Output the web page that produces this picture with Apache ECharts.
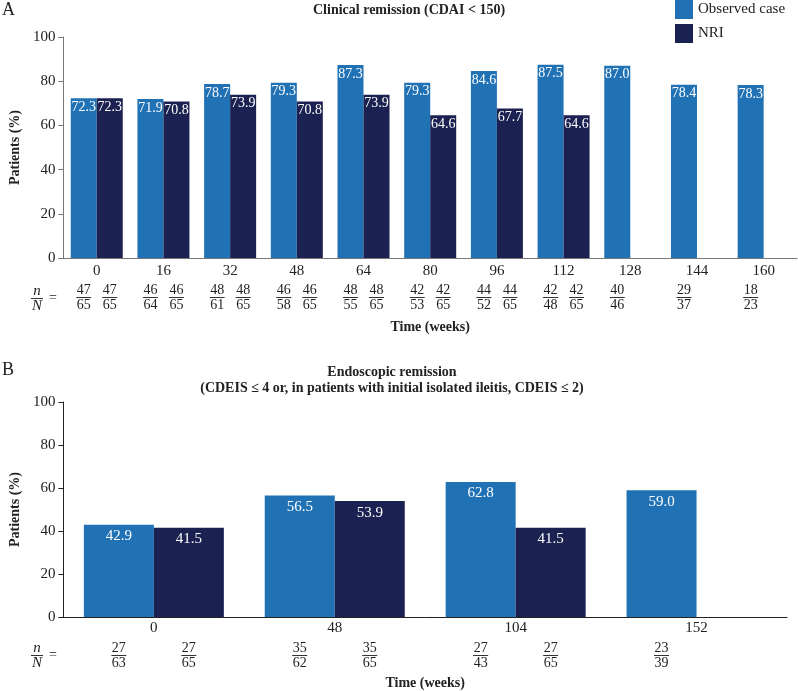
<!DOCTYPE html>
<html lang="en">

<head>
    <meta charset="UTF-8">
    <script src="https://cdn.jsdelivr.net/npm/echarts@6/dist/echarts.min.js"></script>
    <title>Remission</title>
</head>

<body style="margin:0;background:#fff;">
    <div id="main" style="width:798px;height:691px;"></div>

    <script>
        // panel A: clinical remission
        var weeksA = ['0', '16', '32', '48', '64', '80', '96', '112', '128', '144', '160'];
        var observedA = [72.3, 71.9, 78.7, 79.3, 87.3, 79.3, 84.6, 87.5, 87.0, 78.4, 78.3];
        var nriA = [72.3, 70.8, 73.9, 70.8, 73.9, 64.6, 67.7, 64.6, null, null, null];
        var obsCountA = [[47, 65], [46, 64], [48, 61], [46, 58], [48, 55], [42, 53], [44, 52], [42, 48], [40, 46], [29, 37], [18, 23]];
        var nriCountA = [[47, 65], [46, 65], [48, 65], [46, 65], [48, 65], [42, 65], [44, 65], [42, 65], null, null, null];

        // panel B: endoscopic remission
        var weeksB = ['0', '48', '104', '152'];
        var observedB = [42.9, 56.5, 62.8, 59.0];
        var nriB = [41.5, 53.9, 41.5, null];
        var obsCountB = [[27, 63], [35, 62], [27, 43], [23, 39]];
        var nriCountB = [[27, 65], [35, 65], [27, 65], null];

        var yTicks = [0, 20, 40, 60, 80, 100];

        var FONT = '"Liberation Serif", "DejaVu Serif", serif';
        var BLUE = '#2171b5';
        var NAVY = '#1b2150';
        var LINE_W = 15;

        var chart = echarts.init(document.getElementById('main'));

        // category label + n/N fraction(s) under each bar
        function fracFormatter(obs, nri) {
            return function (value, i) {
                var o = obs[i], r = nri[i];
                var top = '{f|' + o[0] + '}' + (r ? '{f|' + r[0] + '}' : '{e|}');
                var mid = '{s|}{ln|}{s|}' + (r ? '{s|}{ln|}{s|}' : '{e|}');
                var bot = '{f|' + o[1] + '}' + (r ? '{f|' + r[1] + '}' : '{e|}');
                return '{c|' + value + '}\n{g|}\n' + top + '\n' + mid + '\n' + bot;
            };
        }

        function fracRich(slot, gap) {
            return {
                c: { fontFamily: FONT, fontSize: 15, lineHeight: 16, color: '#222', align: 'center' },
                g: { height: gap, lineHeight: gap, fontSize: 2, align: 'center' },
                f: { fontFamily: FONT, fontSize: 14, lineHeight: 14, width: slot, color: '#222', align: 'center' },
                e: { width: slot, height: 1, lineHeight: 1, fontSize: 1, align: 'center' },
                s: { width: (slot - LINE_W) / 2, height: 1, lineHeight: 1, fontSize: 1, align: 'center' },
                ln: { width: LINE_W, height: 1, lineHeight: 1, fontSize: 1, backgroundColor: '#333', align: 'center' }
            };
        }

        function valueLabel(size, dist) {
            return {
                show: true,
                position: 'insideTop',
                distance: dist,
                color: '#fff',
                fontFamily: FONT,
                fontSize: size,
                formatter: function (p) { return p.value == null ? '' : p.value.toFixed(1); }
            };
        }

        function yAxisFor(gridIndex, lineColor) {
            return {
                type: 'value',
                gridIndex: gridIndex,
                min: yTicks[0],
                max: yTicks[yTicks.length - 1],
                interval: 20,
                name: 'Patients (%)',
                nameLocation: 'middle',
                nameGap: 29,
                nameTextStyle: { fontFamily: FONT, fontSize: 14, fontWeight: 'bold', color: '#222' },
                axisLine: { show: true, lineStyle: { color: lineColor } },
                axisTick: { show: true, length: 5, lineStyle: { color: lineColor } },
                axisLabel: { fontFamily: FONT, fontSize: 15, color: '#222', margin: 8 },
                splitLine: { show: false }
            };
        }

        var nOverN = {
            n: { fontFamily: FONT, fontStyle: 'italic', fontWeight: 'normal', fontSize: 15, lineHeight: 14, color: '#222', align: 'center' },
            ln: { width: 12, height: 1, lineHeight: 1, fontSize: 1, backgroundColor: '#333', align: 'center' }
        };

        var option = {
            backgroundColor: '#fff',
            animation: false,
            title: [
                { text: 'A', left: 2, top: 1, padding: 0, textStyle: { fontFamily: FONT, fontSize: 18, fontWeight: 'normal', color: '#222' } },
                { text: 'Clinical remission (CDAI < 150)', left: 313, top: 3, padding: 0, textStyle: { fontFamily: FONT, fontSize: 14, fontWeight: 'bold', color: '#222' } },
                { text: '{n|n}\n{ln|}\n{n|N}', left: 31, top: 284, padding: 0, textStyle: { fontWeight: 'normal', rich: nOverN } },
                { text: '=', left: 49, top: 291, padding: 0, textStyle: { fontFamily: FONT, fontSize: 14, fontWeight: 'normal', color: '#222' } },
                { text: 'B', left: 2, top: 361, padding: 0, textStyle: { fontFamily: FONT, fontSize: 18, fontWeight: 'normal', color: '#222' } },
                {
                    text: 'Endoscopic remission\n(CDEIS ≤ 4 or, in patients with initial isolated ileitis, CDEIS ≤ 2)',
                    left: 392, textAlign: 'center', top: 364, padding: 0,
                    textStyle: { fontFamily: FONT, fontSize: 14, fontWeight: 'bold', color: '#222', lineHeight: 16 }
                },
                { text: '{n|n}\n{ln|}\n{n|N}', left: 31, top: 641, padding: 0, textStyle: { fontWeight: 'normal', rich: nOverN } },
                { text: '=', left: 49, top: 648, padding: 0, textStyle: { fontFamily: FONT, fontSize: 14, fontWeight: 'normal', color: '#222' } }
            ],
            legend: {
                data: ['Observed case', 'NRI'],
                orient: 'vertical',
                left: 675,
                top: 0,
                padding: 0,
                itemWidth: 18,
                itemHeight: 19,
                itemGap: 5,
                icon: 'rect',
                textStyle: { fontFamily: FONT, fontSize: 15, color: '#222' }
            },
            grid: [
                { left: 57, right: 1, top: 37, bottom: 433 },
                { left: 58, right: 11, top: 402, bottom: 74 }
            ],
            xAxis: [
                {
                    type: 'category',
                    gridIndex: 0,
                    data: weeksA,
                    name: 'Time (weeks)',
                    nameLocation: 'middle',
                    nameGap: 62,
                    nameTextStyle: { fontFamily: FONT, fontSize: 14, fontWeight: 'bold', color: '#222' },
                    axisLine: { lineStyle: { color: '#777' } },
                    axisTick: { length: 5, lineStyle: { color: '#555' } },
                    axisLabel: { interval: 0, margin: 5, formatter: fracFormatter(obsCountA, nriCountA), rich: fracRich(26, 4) }
                },
                {
                    type: 'category',
                    gridIndex: 1,
                    data: weeksB,
                    name: 'Time (weeks)',
                    nameLocation: 'middle',
                    nameGap: 59,
                    nameTextStyle: { fontFamily: FONT, fontSize: 14, fontWeight: 'bold', color: '#222' },
                    axisLine: { lineStyle: { color: '#222' } },
                    axisTick: { length: 5, lineStyle: { color: '#222' } },
                    axisLabel: { interval: 0, margin: 3, formatter: fracFormatter(obsCountB, nriCountB), rich: fracRich(70, 5) }
                }
            ],
            yAxis: [yAxisFor(0, '#777'), yAxisFor(1, '#222')],
            series: [
                {
                    name: 'Observed case', type: 'bar', xAxisIndex: 0, yAxisIndex: 0,
                    data: observedA, barWidth: 26, barGap: '0%',
                    itemStyle: { color: BLUE }, label: valueLabel(14, 2)
                },
                {
                    name: 'NRI', type: 'bar', xAxisIndex: 0, yAxisIndex: 0,
                    data: nriA, barWidth: 26, barGap: '0%',
                    itemStyle: { color: NAVY }, label: valueLabel(14, 2)
                },
                {
                    name: 'Observed case', type: 'bar', xAxisIndex: 1, yAxisIndex: 1,
                    data: observedB, barWidth: 70, barGap: '0%',
                    itemStyle: { color: BLUE }, label: valueLabel(15, 4)
                },
                {
                    name: 'NRI', type: 'bar', xAxisIndex: 1, yAxisIndex: 1,
                    data: nriB, barWidth: 70, barGap: '0%',
                    itemStyle: { color: NAVY }, label: valueLabel(15, 4)
                }
            ]
        };

        chart.setOption(option);
    </script>
</body>

</html>
